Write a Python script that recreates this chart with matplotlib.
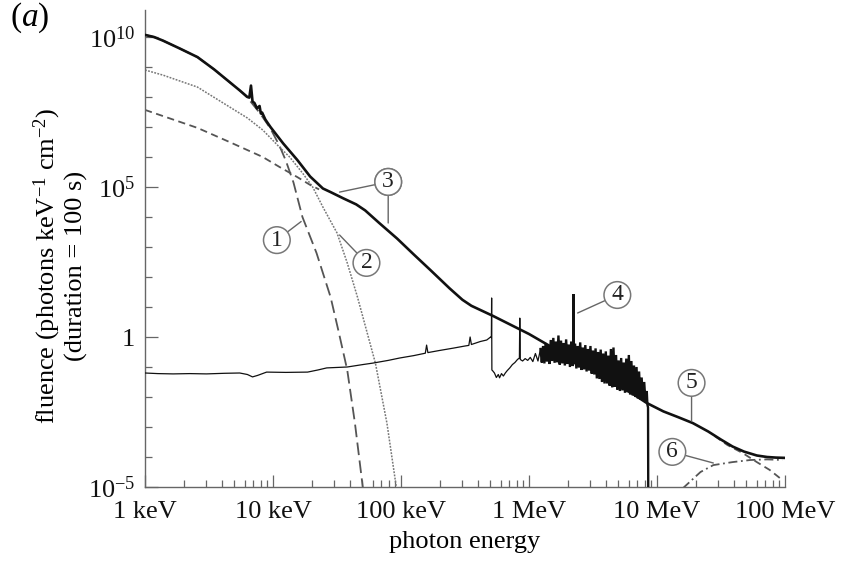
import numpy as np
import matplotlib
matplotlib.use('Agg')
import matplotlib.pyplot as plt

plt.rcParams['font.family'] = ['Liberation Serif', 'DejaVu Serif']
plt.rcParams['mathtext.fontset'] = 'custom'
plt.rcParams['mathtext.rm'] = 'Liberation Serif'
plt.rcParams['mathtext.it'] = 'Liberation Serif:italic'

# all values are log10 of photon energy (keV) and log10 of fluence

# total spectrum (solid, thick)
total_logE = [0.00, 0.07, 0.14, 0.27, 0.41, 0.54, 0.66, 0.74, 0.80, 0.815, 0.828, 0.84,
              0.855, 0.875, 0.895, 0.905, 0.915, 0.94, 0.98, 1.08, 1.19, 1.29, 1.39, 1.45,
              1.55, 1.65, 1.72, 1.83, 1.97, 2.10, 2.23, 2.38, 2.48, 2.55, 2.62, 2.72, 2.86,
              3.00, 3.15, 3.30, 3.45, 3.55, 3.70, 3.82, 3.92, 4.05, 4.17, 4.28, 4.40, 4.50,
              4.59, 4.68, 4.78, 4.86, 4.93, 5.00]
total_logF = [10.07, 10.00, 9.88, 9.62, 9.33, 8.92, 8.50, 8.22, 8.00, 7.98, 8.38, 7.85,
              7.80, 7.62, 7.70, 7.45, 7.48, 7.25, 7.00, 6.45, 5.90, 5.35, 4.95, 4.83,
              4.62, 4.42, 4.22, 3.80, 3.28, 2.75, 2.23, 1.62, 1.24, 1.04, 0.90, 0.70, 0.40,
              0.10, -0.27, -0.63, -0.98, -1.23, -1.62, -1.92, -2.20, -2.48, -2.68, -2.87, -3.15, -3.42,
              -3.65, -3.82, -3.95, -4.00, -4.02, -4.03]

# (1) cool thermal component, long dashes (under the total at low energy)
th1_logE = [0.00, 0.07, 0.14, 0.27, 0.41, 0.54, 0.66, 0.74, 0.80, 0.90, 0.98, 1.05,
            1.10, 1.16, 1.23, 1.34, 1.45, 1.51, 1.58, 1.64, 1.71]
th1_logF = [10.07, 10.00, 9.88, 9.62, 9.33, 8.92, 8.50, 8.22, 7.98, 7.45, 6.95, 6.38,
            5.88, 5.15, 4.00, 2.80, 1.33, 0.23, -1.10, -2.87, -5.30]

# (2) hot thermal component, fine dots
th2_logE = [0.00, 0.14, 0.41, 0.66, 0.80, 0.92, 1.05, 1.13, 1.23, 1.31, 1.39, 1.50,
            1.58, 1.66, 1.73, 1.80, 1.89, 1.97]
th2_logF = [8.90, 8.73, 8.33, 7.67, 7.30, 6.90, 6.33, 6.00, 5.47, 5.00, 4.33, 3.47,
            2.47, 1.33, 0.23, -0.87, -2.87, -5.20]

# non-thermal bremsstrahlung, short dashes (hidden under the total in between)
nt_lo_logE = [0.00, 0.41, 0.66, 0.92, 1.05, 1.19, 1.29, 1.36]
nt_lo_logF = [7.57, 6.97, 6.50, 6.00, 5.67, 5.33, 5.07, 4.92]
nt_hi_logE = [4.45, 4.55, 4.67, 4.78, 4.88, 4.98]
nt_hi_logF = [-3.30, -3.60, -3.87, -4.17, -4.43, -4.77]

# (6) pion-decay component, dash-dot
pi_logE = [4.20, 4.34, 4.44, 4.59, 4.73, 4.86, 4.98]
pi_logF = [-5.05, -4.50, -4.27, -4.17, -4.10, -4.08, -4.10]

# (4) nuclear de-excitation line spectrum, thin solid
nuc_logE = [0.00, 0.10, 0.22, 0.35, 0.48, 0.62, 0.74, 0.80, 0.84, 0.88, 0.95, 1.10,
            1.27, 1.35, 1.42, 1.58, 1.70, 1.78, 1.90, 1.99, 2.10, 2.19, 2.20, 2.21,
            2.30, 2.41, 2.50, 2.53, 2.54, 2.55, 2.62, 2.67, 2.70, 2.706, 2.708, 2.710,
            2.715, 2.73, 2.745, 2.76, 2.77, 2.785, 2.80, 2.815, 2.83, 2.85, 2.87, 2.89,
            2.91, 2.925, 2.928, 2.932, 2.95, 2.97, 2.99, 3.01, 3.03, 3.05, 3.07, 3.09]
nuc_logF = [-1.20, -1.22, -1.23, -1.22, -1.23, -1.21, -1.20, -1.25, -1.33, -1.28, -1.17, -1.18,
            -1.17, -1.10, -1.03, -1.00, -0.92, -0.87, -0.78, -0.70, -0.62, -0.54, -0.27, -0.52,
            -0.45, -0.37, -0.30, -0.28, 0.00, -0.25, -0.15, -0.10, 0.00, -0.02, 1.30, -1.10,
            -1.12, -1.20, -1.35, -1.25, -1.36, -1.22, -1.30, -1.20, -1.12, -1.03, -0.92, -0.85,
            -0.75, -0.70, 0.63, -0.75, -0.80, -0.72, -0.78, -0.68, -0.82, -0.55, -0.80, -0.40]

# dense forest of lines between ~1.2 and 8.5 MeV
band_logE = [3.09, 3.10, 3.11, 3.12, 3.13, 3.14, 3.15, 3.16, 3.17, 3.18, 3.19, 3.20, 3.21,
             3.22, 3.23, 3.24, 3.25, 3.26, 3.27, 3.28, 3.29, 3.30, 3.31, 3.32, 3.33,
             3.34, 3.346, 3.347, 3.348, 3.36, 3.37, 3.38, 3.39, 3.40, 3.41, 3.42, 3.43,
             3.44, 3.45, 3.46, 3.47, 3.48, 3.49, 3.50, 3.51, 3.52, 3.53, 3.54, 3.55,
             3.56, 3.57, 3.58, 3.59, 3.60, 3.61, 3.62, 3.63, 3.64, 3.65, 3.66, 3.67,
             3.68, 3.69, 3.70, 3.71, 3.72, 3.73, 3.74, 3.75, 3.76, 3.77, 3.78, 3.79,
             3.80, 3.81, 3.82, 3.83, 3.84, 3.85, 3.86, 3.87, 3.88, 3.89, 3.90, 3.91,
             3.92, 3.925, 3.93, 3.932]
band_logF = [-0.40, -0.85, -0.30, -0.88, -0.20, -0.82, -0.27, -0.90, -0.10, -0.80, -0.03, -0.86, -0.15,
             -0.84, 0.05, -0.92, -0.12, -0.88, -0.20, -0.95, -0.08, -0.90, -0.25, -1.00, -0.15,
             -0.96, -0.90, 1.43, -0.90, -0.22, -1.05, -0.30, -1.02, -0.18, -1.10, -0.35, -1.08,
             -0.27, -1.15, -0.40, -1.12, -0.30, -1.22, -0.45, -1.25, -0.38, -1.38, -0.50, -1.40,
             -0.42, -1.50, -0.55, -1.55, -0.48, -1.55, -0.62, -1.62, -0.40, -1.68, -0.35, -1.66,
             -0.60, -1.75, -0.78, -1.80, -0.70, -1.78, -0.85, -1.86, -0.72, -1.84, -0.60, -1.92,
             -0.80, -1.95, -0.95, -2.00, -1.00, -2.05, -1.15, -2.08, -1.35, -2.12, -1.50, -2.18,
             -1.80, -2.25, -2.35, -6.00]

# circled labels: (text position, curve point) in log10 units
labels = [
    ('1', (1.03, 3.23), (1.22, 3.85)),
    ('2', (1.73, 2.47), (1.52, 3.40)),
    ('3', (1.90, 5.17), (1.52, 4.83)),
    ('3', (1.90, 5.17), (1.90, 3.80)),
    ('4', (3.69, 1.40), (3.38, 0.80)),
    ('5', (4.27, -1.53), (4.27, -2.80)),
    ('6', (4.12, -3.83), (4.44, -4.20)),
]

x_ticks = [1, 10, 100, 1e3, 1e4, 1e5]
x_ticklabels = ['1 keV', '10 keV', '100 keV', '1 MeV', '10 MeV', '100 MeV']
y_ticks = [1e-5, 1, 1e5, 1e10]
y_ticklabels = ['$10^{-5}$', '1', '$10^{5}$', '$10^{10}$']


def p(le, lf):
    return 10 ** np.array(le), 10 ** np.array(lf)


fig = plt.figure(figsize=(8.41, 5.65), dpi=100)
ax = fig.add_axes([145 / 841, 78 / 565, 640 / 841, 477 / 565])

ax.plot(*p(nuc_logE, nuc_logF), color='#111111', lw=0.9, zorder=3)
ax.plot(*p(band_logE, band_logF), color='#111111', lw=1.7, zorder=5,
        solid_joinstyle='miter')
ax.plot(*p(th1_logE, th1_logF), color='#555555', lw=1.3, dashes=(7, 3), zorder=2)
ax.plot(*p(th2_logE, th2_logF), color='#777777', lw=1.1, dashes=(1.2, 0.9), zorder=2)
ax.plot(*p(nt_lo_logE, nt_lo_logF), color='#555555', lw=1.3, dashes=(4, 2.5), zorder=2)
ax.plot(*p(nt_hi_logE, nt_hi_logF), color='#555555', lw=1.3, dashes=(4, 2.5), zorder=2)
ax.plot(*p(pi_logE, pi_logF), color='#555555', lw=1.3, dashes=(5, 2, 1, 2), zorder=2)
ax.plot(*p(total_logE, total_logF), color='#111111', lw=1.9, zorder=4)

for txt, (tx, ty), (px, py) in labels:
    ax.annotate(txt, xy=(10 ** px, 10 ** py), xytext=(10 ** tx, 10 ** ty),
                ha='center', va='center', fontsize=17, color='#222222', zorder=6,
                bbox=dict(boxstyle='circle,pad=0.12', fc='white', ec='#777777', lw=1.1),
                arrowprops=dict(arrowstyle='-', color='#666666', lw=1.0,
                                shrinkA=0, shrinkB=0))

ax.set_xscale('log')
ax.set_yscale('log')
ax.set_xlim(1, 1e5)
ax.set_ylim(1e-5, 10 ** 10.9)

ax.set_xticks(x_ticks)
ax.set_xticklabels(x_ticklabels)
ax.set_xticks([m * 10 ** k for k in range(5) for m in range(2, 10)], minor=True)
ax.set_yticks(y_ticks)
ax.set_yticklabels(y_ticklabels)
ax.set_yticks([10.0 ** k for k in range(-4, 11) if k % 5], minor=True)
ax.yaxis.set_minor_formatter(matplotlib.ticker.NullFormatter())
ax.xaxis.set_minor_formatter(matplotlib.ticker.NullFormatter())

ax.tick_params(which='both', direction='in', colors='#666666', labelcolor='#111111',
               labelsize=19, width=0.9)
ax.tick_params(which='major', length=9)
ax.tick_params(which='minor', length=5)
ax.tick_params(axis='x', pad=10)
ax.tick_params(axis='y', pad=7)

for s in ['top', 'right']:
    ax.spines[s].set_visible(False)
for s in ['left', 'bottom']:
    ax.spines[s].set_color('#666666')
    ax.spines[s].set_linewidth(1.0)

ax.set_xlabel('photon energy', fontsize=19, labelpad=6)
fig.text(60 / 841, 1 - 266 / 565,
         'fluence (photons keV$^{-1}$ cm$^{-2}$)\n(duration = 100 s)',
         rotation=90, ha='center', va='center', fontsize=19, multialignment='center',
         linespacing=1.1)
fig.text(10 / 841, 1 - 18 / 565, '($a$)', ha='left', va='center', fontsize=24)

fig.savefig('out.png', dpi=100)
